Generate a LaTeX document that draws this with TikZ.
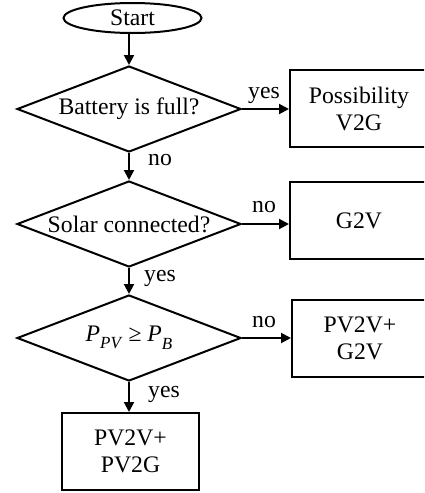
\documentclass[tikz,border=0pt]{standalone}
\usepackage{fontspec}
\setmainfont{Liberation Serif}
\usetikzlibrary{shapes.geometric,arrows.meta}
\begin{document}
\begin{tikzpicture}[x=1pt,y=-1pt,
  every node/.style={font=\fontsize{23.7}{27}\selectfont},
  flow/.style={line width=2pt},
  arr/.style={flow,-{Triangle[length=10pt,width=10pt]}},
  startbox/.style={ellipse,draw,flow,minimum width=138pt,minimum height=30pt,inner sep=0pt},
  decision/.style={diamond,draw,flow,aspect=2.6,minimum width=224pt,minimum height=86pt,inner sep=0pt},
  procbox/.style={rectangle,draw,flow,minimum width=138pt,minimum height=77pt,inner sep=0pt,align=center},
  lbl/.style={inner sep=0pt,anchor=base west}
]
\useasboundingbox (0,0) rectangle (424,493);
\clip (0,0) rectangle (424,493);
\node[startbox] (start) at (132.5,18) {Start};
\node[decision] (d1) at (129,109) {Battery is full?};
\node[decision] (d2) at (129,224) {Solar connected?};
\node[decision] (d3) at (129,338) {\textit{P}\raisebox{-0.3em}{\fontsize{17}{17}\selectfont\textit{PV}} ≥ \textit{P}\raisebox{-0.35em}{\fontsize{17}{17}\selectfont\textit{B}}};
\node[procbox] (b1) at (359,108.5) {Possibility\\V2G};
\node[procbox] (b2) at (359,220.5) {G2V};
\node[procbox,minimum width=136pt] (b3) at (360,338.5) {PV2V+\\G2V};
\node[procbox,minimum width=137pt] (b4) at (130.5,451.5) {PV2V+\\PV2G};
\draw[arr] (d1.north |- start.south) -- (d1.north);
\draw[arr] (d1.south) -- (d2.north);
\draw[arr] (d2.south) -- (d3.north);
\draw[arr] (d3.south) -- (d3.south |- b4.north);
\draw[arr] (d1.east) -- (d1.east -| b1.west);
\draw[arr] (d2.east) -- (d2.east -| b2.west);
\draw[arr] (d3.east) -- (d3.east -| b3.west);
\node[lbl] (l1) at (248,98) {yes};
\node[lbl] (l2) at (148,165) {no};
\node[lbl] (l3) at (252,212) {no};
\node[lbl] (l4) at (144,281) {yes};
\node[lbl] (l5) at (252,327) {no};
\node[lbl] (l6) at (148,397) {yes};
\end{tikzpicture}
\end{document}
